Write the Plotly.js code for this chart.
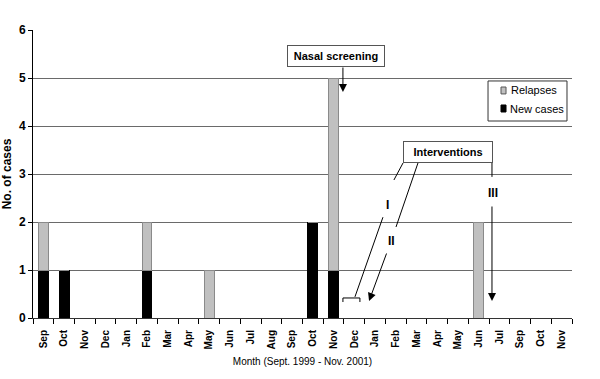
<!DOCTYPE html>
<html>
<head>
<meta charset="utf-8">
<script src="https://cdn.plot.ly/plotly-3.0.1.min.js"></script>
<style>html,body{margin:0;padding:0;background:#fff;}#chart{width:600px;height:379px;}</style>
</head>
<body>
<div id="chart"></div>
<script>
// Month labels (Sept 1999 - Nov 2001, as printed on the original)
const months = ["Sep","Oct","Nov","Dec","Jan","Feb","Mar","Apr","May","Jun","Jul","Aug","Sep",
                "Oct","Nov","Dec","Jan","Feb","Mar","Apr","May","Jun","Jul","Sep","Oct","Nov"];
const newCases = [1,1,0,0,0,1,0,0,0,0,0,0,0,2,1,0,0,0,0,0,0,0,0,0,0,0];
const relapses = [1,0,0,0,0,1,0,0,1,0,0,0,0,0,4,0,0,0,0,0,0,2,0,0,0,0];
const yTicks = [0,1,2,3,4,5,6];
const seriesNames = ["Relapses","New cases"];

const idx = months.map((m,i)=>i);
const bounds = idx.map(i=>i-0.5).concat([months.length-0.5]);

const FAM = "Liberation Sans, Arial, sans-serif";
const BOLD = {family:FAM, size:12, color:"#000", weight:"bold"};
const GRAY = "#c0c0c0", GRAYLINE = "#8a8a8a";

const traces = [
  {type:"bar", name:seriesNames[1], x:idx, y:newCases, width:0.48,
   marker:{color:"#000000", line:{color:"#000000", width:1}}, hoverinfo:"y"},
  {type:"bar", name:seriesNames[0], x:idx, y:relapses, width:0.48,
   marker:{color:GRAY, line:{color:GRAYLINE, width:1}}, hoverinfo:"y"}
];

function seg(x0,y0,x1,y1){return {type:"line",xref:"x",yref:"y",x0:x0,y0:y0,x1:x1,y1:y1,line:{color:"#000",width:1}};}
function arrow(x,y,ax,ay){return {x:x,y:y,ax:ax,ay:ay,xref:"x",yref:"y",axref:"x",ayref:"y",text:"",
  showarrow:true,arrowhead:2,arrowsize:1.6,arrowwidth:1,arrowcolor:"#000",standoff:0,startstandoff:0};}
function label(x,y,t){return {x:x,y:y,xref:"x",yref:"y",text:t,showarrow:false,font:BOLD};}
function prect(x0,y0,x1,y1,fill,line){return {type:"rect",xref:"paper",yref:"paper",x0:x0,y0:y0,x1:x1,y1:y1,
  fillcolor:fill,line:{color:line,width:1},layer:"above"};}

const shapes = [
  seg(17.35,3.23,16.91,2.875),   // I upper
  seg(16.38,2.10,15.03,0.44),    // I lower
  {type:"path",xref:"x",yref:"y",path:"M14.45,0.333 L14.45,0.417 L15.27,0.417 L15.27,0.333",line:{color:"#000",width:1}},
  seg(18.07,3.23,17.01,1.896),   // II upper
  seg(21.64,3.23,21.64,2.94),    // III upper
  // legend box and keys
  prect(0.8442,0.684,0.9907,0.823,"#fff","#333"),
  prect(0.8683,0.778,0.8776,0.802,GRAY,"#555"),
  prect(0.8683,0.7153,0.8776,0.7396,"#000","#000")
];

const annotations = [
  {x:14.12,y:5.458,xref:"x",yref:"y",text:"Nasal screening",showarrow:false,
   font:{family:FAM,size:11,color:"#000",weight:"bold"},
   bordercolor:"#555",borderwidth:1,borderpad:3,bgcolor:"#fff",width:90,height:14},
  {x:19.52,y:3.458,xref:"x",yref:"y",text:"Interventions",showarrow:false,
   font:{family:FAM,size:11,color:"#000",weight:"bold"},
   bordercolor:"#555",borderwidth:1,borderpad:3,bgcolor:"#fff",width:82,height:14},
  arrow(14.45,4.71,14.45,5.25),
  arrow(15.71,0.354,16.58,1.375),
  arrow(21.64,0.354,21.64,2.354),
  label(16.62,2.354,"I"),
  label(16.77,1.604,"II"),
  label(21.69,2.604,"III"),
  {x:0.884,y:0.7917,xref:"paper",yref:"paper",xanchor:"left",yanchor:"middle",text:seriesNames[0],
   showarrow:false,font:{family:FAM,size:11,color:"#000"}},
  {x:0.881,y:0.7257,xref:"paper",yref:"paper",xanchor:"left",yanchor:"middle",text:seriesNames[1],
   showarrow:false,font:{family:FAM,size:11,color:"#000"}}
];

const layout = {
  width:600, height:379,
  margin:{l:33,r:28,t:30,b:61},
  paper_bgcolor:"#fff", plot_bgcolor:"#fff",
  barmode:"stack",
  showlegend:false,
  xaxis:{range:[-0.5,months.length-0.5],tickmode:"array",tickvals:idx,ticktext:months,
    tickangle:-90,ticks:"outside",ticklen:7,tickcolor:"rgba(0,0,0,0)",
    tickfont:{family:FAM,size:10,color:"#000",weight:"bold"},
    minor:{tickmode:"array",tickvals:bounds,ticks:"outside",ticklen:5,tickcolor:"#000",tickwidth:1,showgrid:false},
    showline:true,linecolor:"#333",linewidth:1,showgrid:false,zeroline:false,fixedrange:true,
    title:{text:"Month (Sept. 1999 - Nov. 2001)",font:{family:FAM,size:10,color:"#000"},standoff:9}},
  yaxis:{range:[0,6],tickmode:"array",tickvals:yTicks,ticks:"outside",ticklen:4,tickcolor:"#000",
    tickfont:BOLD,showline:true,linecolor:"#000",linewidth:1,
    showgrid:true,gridcolor:"#6a6a6a",gridwidth:1,zeroline:false,fixedrange:true,
    title:{text:"No. of cases",font:BOLD,standoff:5}},
  shapes:shapes,
  annotations:annotations
};

Plotly.newPlot("chart", traces, layout, {staticPlot:true, displayModeBar:false});
</script>
</body>
</html>
